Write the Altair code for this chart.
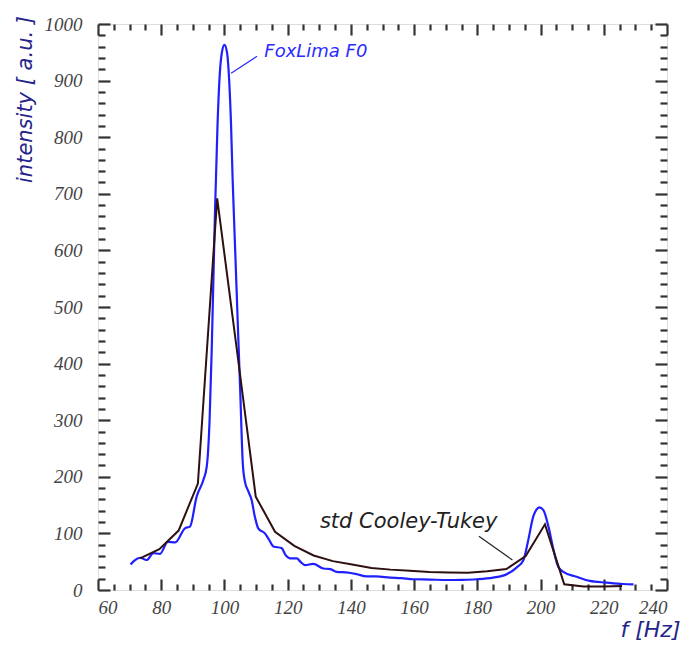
import altair as alt
import pandas as pd

# FoxLima F0 spectrum (blue)
fox_f = [70.3, 71.5, 73.3, 75.4, 77.5, 79.6, 82.1, 84.4, 87.5, 89.1, 91.2, 93.3, 94.4, 95.3,
         96.0, 97.0, 97.8, 98.4, 99.2, 100.0, 100.8, 101.5, 102.1, 102.6, 103.4, 104.2, 105.0,
         105.8, 106.5, 107.5, 108.6, 109.6, 110.7, 112.8, 114.0, 115.5, 118.1, 119.3, 120.7,
         122.9, 124.0, 125.5, 128.1, 131.3, 133.5, 135.5, 138.5, 141.8, 145.0, 148.0, 152.4,
         156.0, 159.7, 165.0, 170.3, 175.0, 179.8, 185.0, 189.3, 192.5, 194.6, 196.1, 197.7,
         198.7, 199.6, 200.9, 202.5, 204.1, 205.6, 207.2, 211.4, 215.6, 220.9, 226.2, 229.4]
fox_i = [45, 52, 57, 53, 65, 64, 85, 84, 109, 112, 165, 194, 218, 300,
         430, 666, 820, 900, 950, 963, 950, 900, 820, 724, 600, 474, 350,
         224, 191, 175, 159, 130, 109, 100, 90, 77, 74, 62, 56,
         56, 50, 44, 46, 38, 37, 32, 31, 28, 24, 24, 22,
         21, 19, 18.5, 17.7, 18, 19, 22, 28, 40, 53, 88, 130,
         142, 146, 141, 112, 71, 41, 32, 23.5, 16, 13, 10.6, 10]

# standard Cooley-Tukey FFT spectrum (black)
ct_f = [73.3, 79.4, 85.5, 91.6, 97.7, 103.8, 109.9, 116.0, 122.1, 128.2, 134.3, 140.4, 146.5,
        152.6, 158.7, 164.8, 170.9, 177.0, 183.1, 189.2, 195.3, 201.4, 207.5, 213.6, 219.7, 225.8]
ct_i = [56, 72, 105, 188, 692, 430, 165, 103, 78, 61, 51, 45, 39,
        36, 34, 32, 31, 30.5, 33, 37, 60, 116, 10, 6, 6, 7]

x_major = [60, 80, 100, 120, 140, 160, 180, 200, 220, 240]
x_minor = [v for v in range(60, 241, 5) if v % 20 != 0]
y_major = [0, 100, 200, 300, 400, 500, 600, 700, 800, 900, 1000]
y_minor = [v for v in range(0, 1001, 20) if v % 100 != 0]

ann_text = ["FoxLima F0", "std Cooley-Tukey"]
ann_f = [112.6, 130.2]
ann_i = [950, 120]
ann_size = [18, 21]
ann_color = ["#2a2aff", "#222222"]
lead_f1 = [102.1, 180.5]
lead_i1 = [913, 95]
lead_f2 = [110.3, 191.1]
lead_i2 = [943, 53]

W, H = 569, 566
xs = alt.Scale(domain=[60, 240], nice=False, zero=False)
ys = alt.Scale(domain=[0, 1000], nice=False)

fox = pd.DataFrame({"f": fox_f, "i": fox_i})
ct = pd.DataFrame({"f": ct_f, "i": ct_i})
ann = pd.DataFrame({"t": ann_text, "f": ann_f, "i": ann_i, "c": ann_color, "s": ann_size})
lead = pd.DataFrame({"f1": lead_f1, "i1": lead_i1, "f2": lead_f2, "i2": lead_i2, "c": ann_color})

TICK = "#333333"

def tick_axis(orient, values, size, offset):
    return alt.Axis(orient=orient, values=values, tickSize=size, offset=offset,
                    labels=False, domain=False, grid=False, title=None,
                    tickColor=TICK, tickWidth=2.2)

blue = alt.Chart(fox).mark_line(color="#2020ff", strokeWidth=2.2, interpolate="monotone").encode(
    x=alt.X("f:Q", scale=xs, axis=alt.Axis(
        orient="bottom", values=x_major, ticks=False, domain=False, grid=False, format="d",
        labelFont="Liberation Serif", labelFontStyle="italic", labelFontSize=19,
        labelColor="#444444", labelPadding=8,
        title="f [Hz]", titleFont="DejaVu Sans", titleFontStyle="italic",
        titleFontWeight="normal", titleFontSize=22, titleColor="#24248a",
        titleAlign="right", titleBaseline="middle", titleX=582, titleY=39)),
    y=alt.Y("i:Q", scale=ys, axis=alt.Axis(
        orient="left", values=y_major, ticks=False, domain=False, grid=False, format="d",
        labelFont="Liberation Serif", labelFontStyle="italic", labelFontSize=19,
        labelColor="#444444", labelPadding=16,
        title="intensity [ a.u. ]", titleFont="DejaVu Sans", titleFontStyle="italic",
        titleFontWeight="normal", titleFontSize=21, titleColor="#24248a",
        titleAngle=270, titleAlign="center", titleBaseline="middle",
        titleX=-73, titleY=75)),
)

black = alt.Chart(ct).mark_line(color="#2e1010", strokeWidth=2).encode(
    x=alt.X("f:Q", scale=xs, axis=tick_axis("top", x_major, 11, -H)),
    y=alt.Y("i:Q", scale=ys, axis=tick_axis("right", y_major, 12, -W)),
)

leaders = alt.Chart(lead).mark_rule(strokeWidth=1.2).encode(
    x=alt.X("f1:Q", scale=xs, axis=tick_axis("top", x_minor, 6, -H)),
    x2="f2:Q",
    y=alt.Y("i1:Q", scale=ys, axis=tick_axis("right", y_minor, 7, -W)),
    y2="i2:Q",
    color=alt.Color("c:N", scale=None),
)

texts = alt.Chart(ann).mark_text(font="DejaVu Sans", fontStyle="italic",
                                 align="left", baseline="middle").encode(
    x=alt.X("f:Q", scale=xs, axis=tick_axis("bottom", x_major, 11, -H)),
    y=alt.Y("i:Q", scale=ys, axis=tick_axis("left", y_major, 12, -W)),
    text="t:N",
    size=alt.Size("s:Q", scale=None),
    color=alt.Color("c:N", scale=None),
)

dummy = alt.Chart(ct).mark_point(opacity=0).encode(
    x=alt.X("f:Q", scale=xs, axis=tick_axis("bottom", x_minor, 6, -H)),
    y=alt.Y("i:Q", scale=ys, axis=tick_axis("left", y_minor, 7, -W)),
)

chart = alt.layer(blue, black, leaders, texts, dummy).resolve_axis(
    x="independent", y="independent"
).properties(
    width=W, height=H,
    autosize=alt.AutoSizeParams(type="none"),
    padding={"left": 90, "top": 16, "right": 18, "bottom": 50},
).configure_view(stroke=TICK, strokeWidth=2).configure(background="white")

chart.save("out.html", embed_options={"renderer": "svg", "actions": False})
